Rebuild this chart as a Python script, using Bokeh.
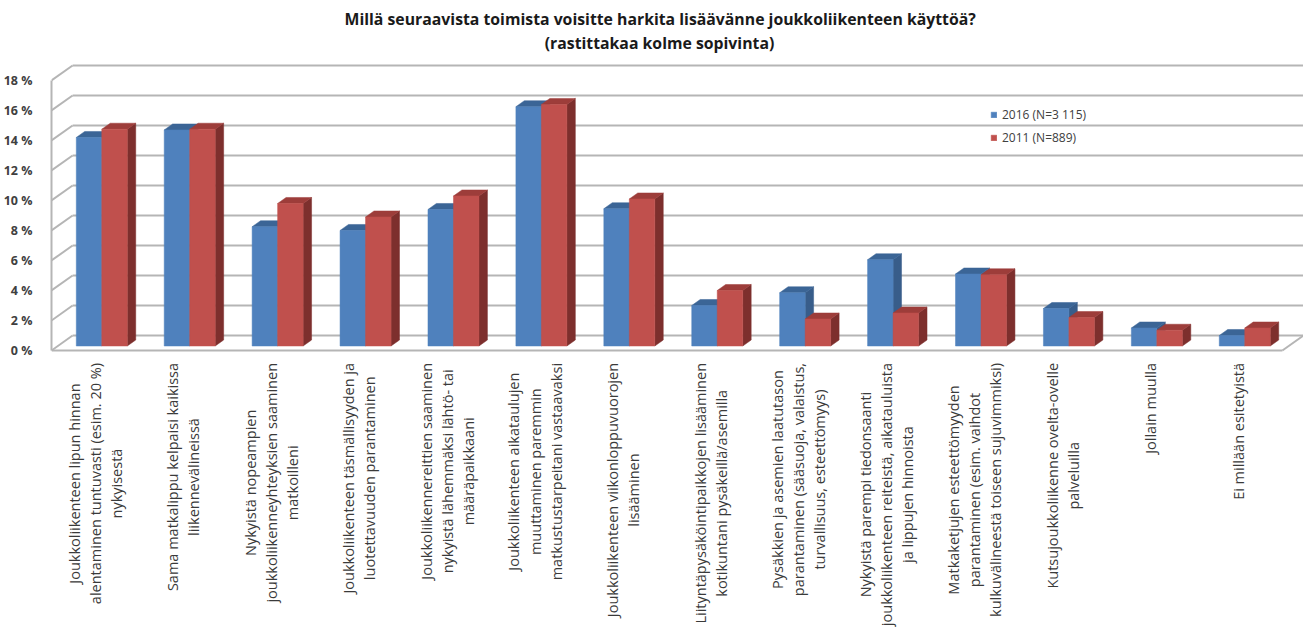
import math
from bokeh.plotting import figure
from bokeh.models import (Range1d, ColumnDataSource, Legend, LegendItem, Title, Label,
                          PrintfTickFormatter, FixedTicker)
from bokeh.core.properties import value
from bokeh.embed import file_html
from bokeh.resources import INLINE

categories = [
    "Joukkoliikenteen lipun hinnan\nalentaminen tuntuvasti (esim. 20 %)\nnykyisestä",
    "Sama matkalippu kelpaisi kaikissa\nliikennevälineissä",
    "Nykyistä nopeampien\njoukkoliikenneyhteyksien saaminen\nmatkoilleni",
    "Joukkoliikenteen täsmällisyyden ja\nluotettavuuden parantaminen",
    "Joukkoliikennereittien saaminen\nnykyistä lähemmäksi lähtö- tai\nmääräpaikkaani",
    "Joukkoliikenteen aikataulujen\nmuuttaminen paremmin\nmatkustustarpeitani vastaavaksi",
    "Joukkoliikenteen viikonloppuvuorojen\nlisääminen",
    "Liityntäpysäköintipaikkojen lisääminen\nkotikuntani pysäkeillä/asemilla",
    "Pysäkkien ja asemien laatutason\nparantaminen (sääsuoja, valaistus,\nturvallisuus, esteettömyys)",
    "Nykyistä parempi tiedonsaanti\njoukkoliikenteen reiteistä, aikatauluista\nja lippujen hinnoista",
    "Matkaketjujen esteettömyyden\nparantaminen (esim. vaihdot\nkulkuvälineestä toiseen sujuvimmiksi)",
    "Kutsujoukkoliikenne ovelta-ovelle\npalveluilla",
    "Jollain muulla",
    "Ei millään esitetyistä",
]
values_2016 = [13.9, 14.4, 7.95, 7.7, 9.1, 15.95, 9.15, 2.7, 3.55, 5.75, 4.8, 2.5, 1.2, 0.7]
values_2011 = [14.45, 14.45, 9.5, 8.6, 10.0, 16.1, 9.8, 3.7, 1.8, 2.2, 4.75, 1.9, 1.05, 1.2]
series_names = ["2016 (N=3 115)", "2011 (N=889)"]
y_ticks = [0, 2, 4, 6, 8, 10, 12, 14, 16, 18]
title_lines = ["Millä seuraavista toimista voisitte harkita lisäävänne joukkoliikenteen käyttöä?",
               "(rastittakaa kolme sopivinta)"]

# 3D geometry (data units)
N = len(categories)
DX = 0.24      # horizontal shift per 1 unit of depth
D0, D1 = 0.3, 0.7  # bar front / back depth
W = 0.29       # bar width
FONT = "Open Sans"
TOP = 30       # frame top (px)
HEIGHT = 640
FRAME_H = HEIGHT - TOP

p = figure(width=1303, height=HEIGHT, output_backend="svg", toolbar_location=None,
           x_range=Range1d(0, N + DX), y_range=Range1d(-19.33, 21.33),
           x_axis_location=None, min_border_left=50, min_border_right=0,
           min_border_top=TOP, min_border_bottom=0)
p.outline_line_color = None
p.xgrid.visible = False
p.ygrid.visible = False
p.background_fill_color = "white"
p.border_fill_color = "white"

# titles
t1 = Title(text=title_lines[0], align="left", text_font=FONT, text_font_size="15.8px",
           text_font_style="bold", text_color="#1a1a1a", standoff=2, offset=293)
p.add_layout(t1, "above")
sub = Label(x=608, y=FRAME_H - (42 - TOP), x_units="screen", y_units="screen", text=title_lines[1],
            text_align="center", text_baseline="middle", text_font=FONT,
            text_font_size="15.8px", text_font_style="bold", text_color="#1a1a1a")
p.add_layout(sub)

# y axis
ax = p.yaxis[0]
ax.ticker = FixedTicker(ticks=y_ticks)
ax.formatter = PrintfTickFormatter(format="%d %%")
ax.bounds = (0, 18)
ax.axis_line_color = "#b5b5b5"
ax.axis_line_width = 2
ax.major_tick_line_color = None
ax.minor_tick_line_color = None
ax.major_label_standoff = 13
ax.major_label_text_font = FONT
ax.major_label_text_font_size = "12.5px"
ax.major_label_text_font_style = "bold"
ax.major_label_text_color = "#404040"

grid_col = "#b5b5b5"
# back wall gridlines
p.segment(x0=[DX] * len(y_ticks), y0=[t + 1 for t in y_ticks],
          x1=[N + DX] * len(y_ticks), y1=[t + 1 for t in y_ticks],
          line_color=grid_col, line_width=2)
# side wall diagonals
p.segment(x0=[0] * len(y_ticks), y0=y_ticks, x1=[DX] * len(y_ticks), y1=[t + 1 for t in y_ticks],
          line_color=grid_col, line_width=2)
# floor front edge and right edge
p.segment(x0=[0, N], y0=[0, 0], x1=[N, N + DX], y1=[0, 1], line_color=grid_col, line_width=2)

# bars
colors = [("#4f81bd", "#3b6596", "#385d8a"), ("#c0504d", "#9d3d3a", "#7d2f2d")]
centers = [i + 0.5 for i in range(N)]
dd = D1 - D0
legend_items = []
for s, vals in enumerate([values_2016, values_2011]):
    front, top_c, side_c = colors[s]
    lefts, rights, bottoms, tops = [], [], [], []
    for c, v in zip(centers, vals):
        l = c + D0 * DX - W + s * W
        lefts.append(l)
        rights.append(l + W)
        bottoms.append(D0)
        tops.append(v + D0)
    side_xs = [[r, r, r + dd * DX, r + dd * DX] for r in rights]
    side_ys = [[b, t, t + dd, b + dd] for b, t in zip(bottoms, tops)]
    top_xs = [[l, r, r + dd * DX, l + dd * DX] for l, r in zip(lefts, rights)]
    top_ys = [[t, t, t + dd, t + dd] for t in tops]
    p.patches(xs=side_xs, ys=side_ys, fill_color=side_c, line_color=side_c, line_width=0.5)
    p.patches(xs=top_xs, ys=top_ys, fill_color=top_c, line_color=top_c, line_width=0.5)
    src = ColumnDataSource(dict(left=lefts, right=rights, bottom=bottoms, top=tops))
    r = p.quad(left="left", right="right", bottom="bottom", top="top", source=src,
               fill_color=front, line_color=front, line_width=0.5)
    legend_items.append(LegendItem(label=series_names[s], renderers=[r]))

# category labels
p.text(x=centers, y=[-0.83] * N, text=categories, angle=math.pi / 2,
       anchor="center_right", text_align="center", text_baseline="middle",
       text_font=value(FONT), text_font_size="14.5px", text_color="#3a3a3a",
       text_line_height=1.11)

legend = Legend(items=legend_items, location=(939, 494), orientation="vertical",
                glyph_width=7, glyph_height=7, label_height=16, spacing=6, padding=0, margin=0,
                label_standoff=5, label_text_font=FONT, label_text_font_size="12px",
                label_text_color="#404040", border_line_color=None, background_fill_alpha=0)
p.add_layout(legend)

open("out.html", "w").write(file_html(p, INLINE))
